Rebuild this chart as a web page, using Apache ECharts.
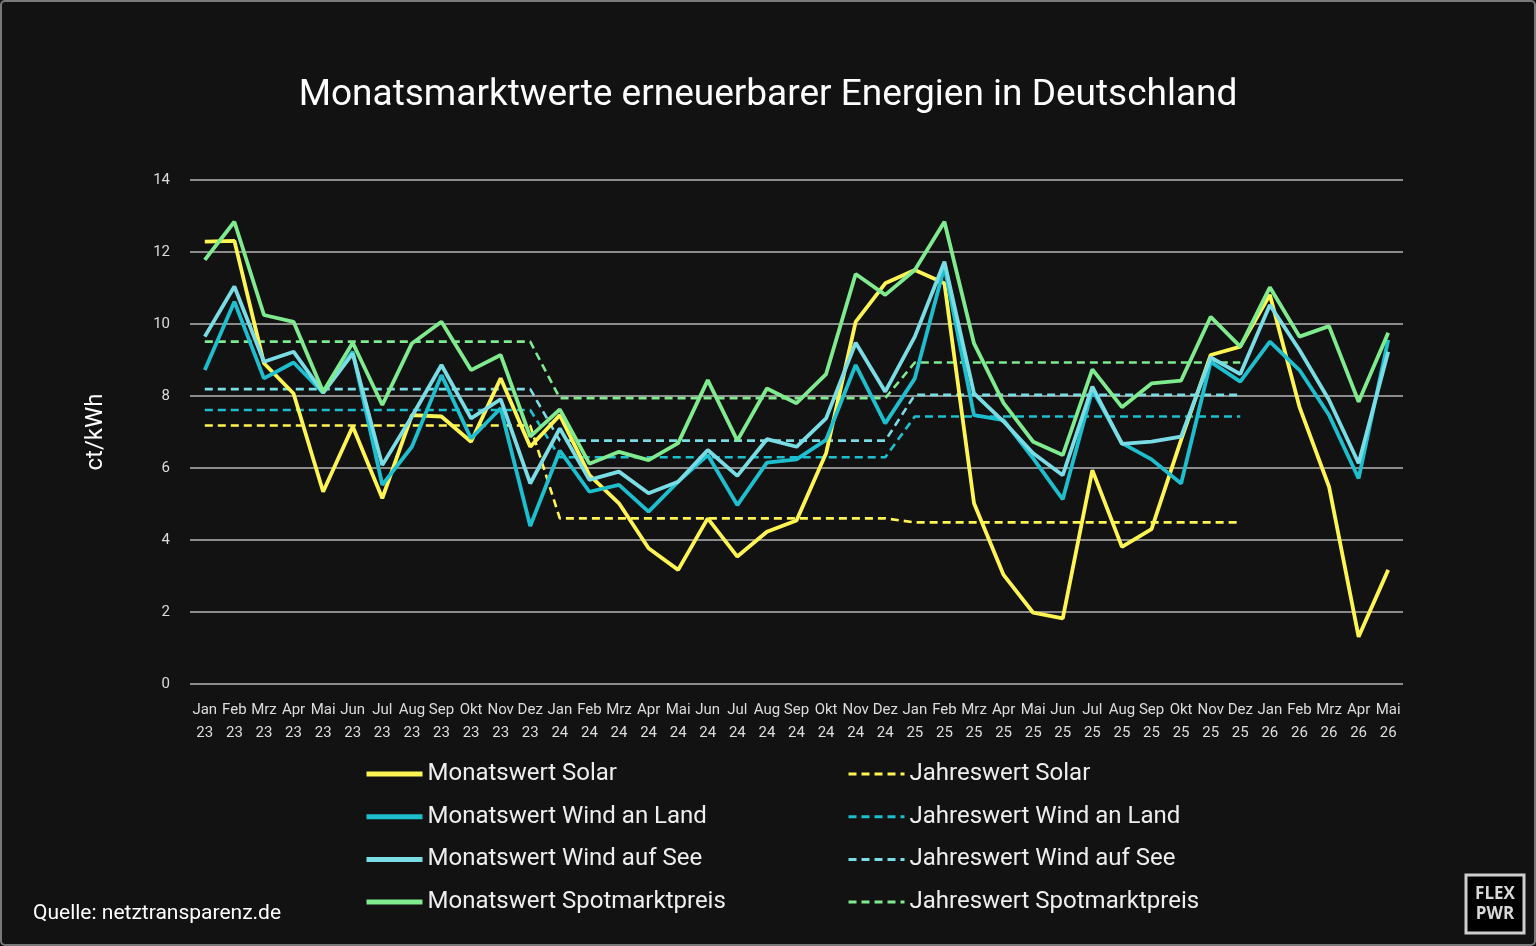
<!DOCTYPE html>
<html>
<head>
<meta charset="utf-8">
<script src="https://cdn.jsdelivr.net/npm/echarts@6/dist/echarts.min.js"></script>
<style>
  html, body { margin: 0; padding: 0; background: #121212; }
  #chart { width: 1536px; height: 946px; }
</style>
</head>
<body>
<div id="chart"></div>
<script>
const categories = [
  "Jan 23", "Feb 23", "Mrz 23", "Apr 23", "Mai 23", "Jun 23", "Jul 23", "Aug 23", "Sep 23", "Okt 23", "Nov 23", "Dez 23",
  "Jan 24", "Feb 24", "Mrz 24", "Apr 24", "Mai 24", "Jun 24", "Jul 24", "Aug 24", "Sep 24", "Okt 24", "Nov 24", "Dez 24",
  "Jan 25", "Feb 25", "Mrz 25", "Apr 25", "Mai 25", "Jun 25", "Jul 25", "Aug 25", "Sep 25", "Okt 25", "Nov 25", "Dez 25",
  "Jan 26", "Feb 26", "Mrz 26", "Apr 26", "Mai 26"
];

// Monatswerte (ct/kWh)
const monatSolar = [12.29, 12.31, 8.91, 8.07, 5.34, 7.15, 5.16, 7.47, 7.43, 6.73, 8.49, 6.59,
  7.47, 5.80, 5.02, 3.77, 3.17, 4.60, 3.54, 4.23, 4.54, 6.41, 10.06, 11.13,
  11.50, 11.13, 5.02, 3.03, 1.98, 1.82, 5.94, 3.81, 4.30, 6.78, 9.14, 9.37,
  10.81, 7.70, 5.48, 1.31, 3.17];
const monatLand = [8.72, 10.62, 8.49, 8.93, 8.09, 9.23, 5.53, 6.59, 8.58, 6.82, 7.66, 4.39,
  6.48, 5.34, 5.53, 4.79, 5.62, 6.36, 4.97, 6.15, 6.24, 6.78, 8.86, 7.24,
  8.49, 11.59, 7.47, 7.33, 6.27, 5.13, 8.17, 6.69, 6.24, 5.57, 8.95, 8.40,
  9.51, 8.72, 7.47, 5.71, 9.56];
const monatSee = [9.65, 11.04, 8.95, 9.23, 8.09, 9.18, 6.08, 7.43, 8.86, 7.38, 7.91, 5.57,
  7.10, 5.67, 5.90, 5.30, 5.62, 6.50, 5.78, 6.80, 6.59, 7.38, 9.48, 8.12,
  9.65, 11.73, 8.07, 7.29, 6.41, 5.80, 8.26, 6.67, 6.73, 6.87, 9.07, 8.61,
  10.53, 9.28, 7.89, 6.13, 9.23];
const monatSpot = [11.78, 12.84, 10.25, 10.06, 8.12, 9.48, 7.75, 9.46, 10.06, 8.72, 9.14, 6.87,
  7.63, 6.12, 6.45, 6.22, 6.69, 8.44, 6.76, 8.21, 7.80, 8.61, 11.39, 10.81,
  11.50, 12.84, 9.46, 7.80, 6.73, 6.36, 8.74, 7.69, 8.35, 8.43, 10.20, 9.37,
  11.02, 9.65, 9.94, 7.84, 9.76];

// Jahreswerte (ct/kWh), 2026 noch offen
const jahrSolar = [7.18, 7.18, 7.18, 7.18, 7.18, 7.18, 7.18, 7.18, 7.18, 7.18, 7.18, 7.18,
  4.60, 4.60, 4.60, 4.60, 4.60, 4.60, 4.60, 4.60, 4.60, 4.60, 4.60, 4.60,
  4.49, 4.49, 4.49, 4.49, 4.49, 4.49, 4.49, 4.49, 4.49, 4.49, 4.49, 4.49,
  null, null, null, null, null];
const jahrLand = [7.61, 7.61, 7.61, 7.61, 7.61, 7.61, 7.61, 7.61, 7.61, 7.61, 7.61, 7.61,
  6.30, 6.30, 6.30, 6.30, 6.30, 6.30, 6.30, 6.30, 6.30, 6.30, 6.30, 6.30,
  7.43, 7.43, 7.43, 7.43, 7.43, 7.43, 7.43, 7.43, 7.43, 7.43, 7.43, 7.43,
  null, null, null, null, null];
const jahrSee = [8.19, 8.19, 8.19, 8.19, 8.19, 8.19, 8.19, 8.19, 8.19, 8.19, 8.19, 8.19,
  6.76, 6.76, 6.76, 6.76, 6.76, 6.76, 6.76, 6.76, 6.76, 6.76, 6.76, 6.76,
  8.03, 8.03, 8.03, 8.03, 8.03, 8.03, 8.03, 8.03, 8.03, 8.03, 8.03, 8.03,
  null, null, null, null, null];
const jahrSpot = [9.51, 9.51, 9.51, 9.51, 9.51, 9.51, 9.51, 9.51, 9.51, 9.51, 9.51, 9.51,
  7.94, 7.94, 7.94, 7.94, 7.94, 7.94, 7.94, 7.94, 7.94, 7.94, 7.94, 7.94,
  8.93, 8.93, 8.93, 8.93, 8.93, 8.93, 8.93, 8.93, 8.93, 8.93, 8.93, 8.93,
  null, null, null, null, null];

const yellow = "#FFF552";
const cyan = "#1DBFCF";
const lightCyan = "#7ADDE5";
const green = "#7FEA8E";

const chart = echarts.init(document.getElementById("chart"));

function solid(name, data, color) {
  return {
    name: name, type: "line", data: data, symbol: "none",
    lineStyle: { color: color, width: 3.8 },
    itemStyle: { color: color },
    z: 3,
  };
}
function dashed(name, data, color) {
  return {
    name: name, type: "line", data: data, symbol: "none",
    lineStyle: { color: color, width: 2.6, type: [8, 5] },
    itemStyle: { color: color },
    z: 2,
  };
}

const legendText = { color: "#eeeeee", fontSize: 24, fontFamily: "Roboto", lineHeight: 26 };

chart.setOption({
  backgroundColor: "#121212",
  animation: false,
  title: {
    text: "Monatsmarktwerte erneuerbarer Energien in Deutschland",
    left: "center",
    top: 72,
    textStyle: { color: "#ffffff", fontSize: 37, fontWeight: "normal", fontFamily: "Roboto" },
  },
  grid: { left: 190, right: 133, top: 180, bottom: 262 },
  legend: [
    {
      orient: "vertical", left: 359, top: 756, itemGap: 16.7,
      itemWidth: 56, itemHeight: 8,
      lineStyle: { width: 5 },
      itemStyle: { opacity: 0 },
      textStyle: legendText,
      data: ["Monatswert Solar", "Monatswert Wind an Land", "Monatswert Wind auf See", "Monatswert Spotmarktpreis"],
    },
    {
      orient: "vertical", left: 842, top: 756, itemGap: 16.7,
      itemWidth: 56, itemHeight: 8,
      lineStyle: { width: 3 },
      itemStyle: { opacity: 0 },
      textStyle: legendText,
      data: ["Jahreswert Solar", "Jahreswert Wind an Land", "Jahreswert Wind auf See", "Jahreswert Spotmarktpreis"],
    },
  ],
  xAxis: {
    type: "category",
    data: categories,
    boundaryGap: true,
    axisLine: { show: false },
    axisTick: { show: false },
    axisLabel: {
      interval: 0,
      color: "#dddddd",
      fontSize: 15,
      fontFamily: "Roboto",
      lineHeight: 23,
      margin: 15,
      formatter: (v) => v.replace(" ", "\n"),
    },
  },
  yAxis: {
    type: "value",
    min: 0, max: 14, interval: 2,
    name: "ct/kWh",
    nameLocation: "middle",
    nameRotate: 90,
    nameGap: 82,
    nameTextStyle: { color: "#ffffff", fontSize: 24, fontFamily: "Roboto" },
    axisLine: { show: false },
    axisTick: { show: false },
    axisLabel: { color: "#dddddd", fontSize: 15, fontFamily: "Roboto", margin: 20 },
    splitLine: { lineStyle: { color: "#b5b5b5", width: 1.5 } },
  },
  series: [
    dashed("Jahreswert Solar", jahrSolar, yellow),
    dashed("Jahreswert Wind an Land", jahrLand, cyan),
    dashed("Jahreswert Wind auf See", jahrSee, lightCyan),
    dashed("Jahreswert Spotmarktpreis", jahrSpot, green),
    solid("Monatswert Solar", monatSolar, yellow),
    solid("Monatswert Wind an Land", monatLand, cyan),
    solid("Monatswert Wind auf See", monatSee, lightCyan),
    solid("Monatswert Spotmarktpreis", monatSpot, green),
  ],
  graphic: [
    {
      type: "rect",
      shape: { x: 1, y: 1, width: 1534, height: 944, r: 4 },
      style: { fill: "none", stroke: "#7a7a7a", lineWidth: 2 },
      silent: true,
    },
    {
      type: "text",
      left: 33, top: 903,
      style: { text: "Quelle: netztransparenz.de", fill: "#ffffff", fontSize: 21, fontFamily: "Roboto" },
    },
    {
      type: "rect",
      shape: { x: 1466, y: 875, width: 58, height: 58 },
      style: { fill: "#000000", stroke: "#cfcfcf", lineWidth: 3 },
    },
    {
      type: "text",
      x: 1495, y: 904,
      style: {
        text: "FLEX\nPWR", fill: "#d8d8d8", fontSize: 17, fontWeight: "bold",
        fontFamily: "Open Sans", lineHeight: 20, align: "center", verticalAlign: "middle",
      },
    },
  ],
});
</script>
</body>
</html>
